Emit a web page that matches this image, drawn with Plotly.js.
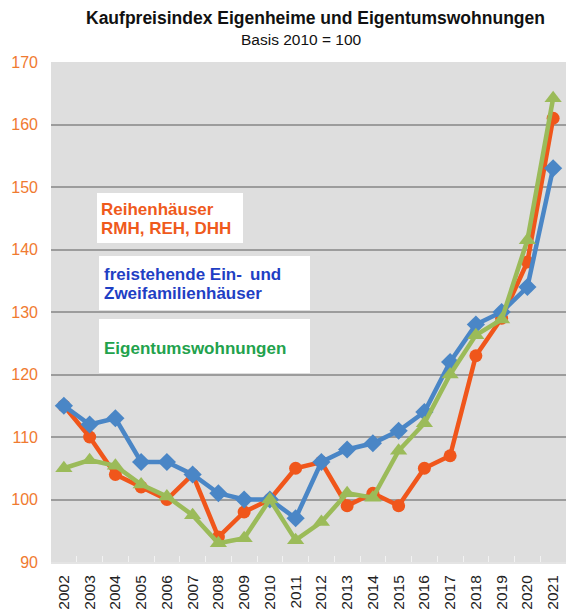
<!DOCTYPE html>
<html>
<head>
<meta charset="utf-8">
<script src="https://cdn.plot.ly/plotly-3.0.1.min.js"></script>
<style>
  html, body { margin: 0; padding: 0; overflow: hidden; background: #ffffff; }
  #chart { width: 566px; height: 614px; }
</style>
</head>
<body>
<div id="chart"></div>
<script>
const years = ["2002","2003","2004","2005","2006","2007","2008","2009","2010","2011",
               "2012","2013","2014","2015","2016","2017","2018","2019","2020","2021"];
const reihenhaeuser = [115, 110, 104, 102, 100, 104, 94, 98, 100, 105,
                       106, 99, 101, 99, 105, 107, 123, 129, 138, 161];
const freistehende  = [115, 112, 113, 106, 106, 104, 101, 100, 100, 97,
                       106, 108, 109, 111, 114, 122, 128, 130, 134, 153];
const eigentum      = [105, 106.3, 105.4, 102.4, 100.5, 97.5, 93, 93.8, 100, 93.5,
                       96.4, 101, 100.3, 107.8, 112.2, 120, 126.3, 128.8, 141.5, 164.2];
const yTicks = [90, 100, 110, 120, 130, 140, 150, 160, 170];
const titleText = "Kaufpreisindex Eigenheime und Eigentumswohnungen";
const subtitleText = "Basis 2010 = 100";
const label1Lines = ["Reihenhäuser", "RMH, REH, DHH"];
const label2Lines = ["freistehende Ein-&#8201; und", "Zweifamilienhäuser"];
const label3Lines = ["Eigentumswohnungen"];

const cOrange = "#f0561b";
const cBlue = "#4a86c6";
const cGreen = "#9bbb59";
const font = "Arial, 'Liberation Sans', sans-serif";

const traces = [
  { x: years, y: reihenhaeuser, type: "scatter", mode: "lines+markers",
    line: { color: cOrange, width: 4.5 },
    marker: { symbol: "circle", size: 13, color: cOrange } },
  { x: years, y: freistehende, type: "scatter", mode: "lines+markers",
    line: { color: cBlue, width: 4.5 },
    marker: { symbol: "diamond", size: 14, color: cBlue } },
  { x: years, y: eigentum, type: "scatter", mode: "lines+markers",
    line: { color: cGreen, width: 4.5 },
    marker: { symbol: "triangle-up", size: 15, color: cGreen } }
];

function px(x) { return (x - 51) / 515; }
function py(y) { return (562 - y) / 500; }

function labelAnn(lines, xPix, yPixFirst, color) {
  return lines.map((t, i) => ({
    text: "<b>" + t + "</b>", xref: "paper", yref: "paper", align: "left",
    x: px(xPix), y: py(yPixFirst + i * 19.5), xanchor: "left", yanchor: "middle",
    showarrow: false, font: { family: font, size: 17, color: color }
  }));
}

const layout = {
  width: 566, height: 614,
  margin: { l: 51, r: 0, t: 62, b: 52, pad: 0 },
  paper_bgcolor: "#ffffff",
  plot_bgcolor: "#dedede",
  showlegend: false,
  font: { family: font, color: "#222222" },
  xaxis: {
    type: "category",
    range: [-0.5, 19.5],
    tickangle: -90,
    tickfont: { family: font, size: 15.5, color: "#222222" },
    ticks: "inside", tickson: "boundaries", ticklen: 6, tickwidth: 1, tickcolor: "#f2f2f2",
    ticklabelstandoff: 5,
    showgrid: false, zeroline: false,
    showline: true, linecolor: "#e4e4e4", linewidth: 2,
    fixedrange: true
  },
  yaxis: {
    range: [90, 170],
    tickvals: yTicks,
    ticktext: yTicks.map(String),
    tickfont: { family: font, size: 16, color: "#f07a30" },
    ticks: "",
    ticklabelstandoff: 12,
    showgrid: true, gridcolor: "#9c9c9c", gridwidth: 2,
    zeroline: false, showline: false,
    fixedrange: true
  },
  shapes: [
    { type: "rect", xref: "paper", yref: "paper", x0: px(97), x1: px(243), y0: py(243), y1: py(193),
      fillcolor: "#ffffff", line: { width: 0 }, layer: "above" },
    { type: "rect", xref: "paper", yref: "paper", x0: px(99), x1: px(310), y0: py(310), y1: py(256),
      fillcolor: "#ffffff", line: { width: 0 }, layer: "above" },
    { type: "rect", xref: "paper", yref: "paper", x0: px(99), x1: px(310), y0: py(373), y1: py(319),
      fillcolor: "#ffffff", line: { width: 0 }, layer: "above" }
  ],
  annotations: [
    { text: "<b>" + titleText + "</b>", xref: "paper", yref: "paper",
      x: px(315), y: py(18), xanchor: "center", yanchor: "middle", showarrow: false,
      font: { family: font, size: 17.5, color: "#111111" } },
    { text: subtitleText, xref: "paper", yref: "paper",
      x: px(301), y: py(40), xanchor: "center", yanchor: "middle", showarrow: false,
      font: { family: font, size: 15.5, color: "#111111" } }
  ].concat(
    labelAnn(label1Lines, 99, 209.5, "#ef5a1c"),
    labelAnn(label2Lines, 102, 274, "#1f3fc4"),
    labelAnn(label3Lines, 102, 348, "#22a24c")
  )
};

Plotly.newPlot("chart", traces, layout, { displayModeBar: false, staticPlot: true });
</script>
</body>
</html>
